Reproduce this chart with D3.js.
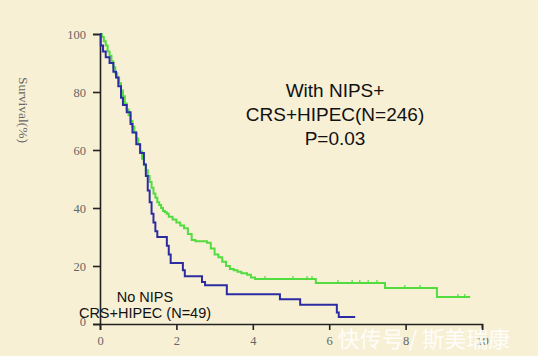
<!DOCTYPE html>
<html><head><meta charset="utf-8">
<script src="https://cdn.jsdelivr.net/npm/d3@7/dist/d3.min.js"></script>
<style>
html,body{margin:0;padding:0;background:#f7f0d5;}
svg{display:block;}
</style></head>
<body>
<script>
// ---- data ----
const xTicks = [0, 2, 4, 6, 8, 10];
const yTicks = [0, 20, 40, 60, 80, 100];
const greenTime = [0,0.05,0.1,0.15,0.2,0.25,0.3,0.35,0.4,0.45,0.5,0.55,0.6,0.65,0.7,0.75,0.8,0.85,0.9,0.95,1.0,1.05,1.1,1.15,1.2,1.25,1.3,1.35,1.4,1.45,1.5,1.55,1.6,1.65,1.7,1.75,1.8,1.9,2.0,2.1,2.2,2.3,2.4,2.5,2.8,2.9,3.0,3.1,3.2,3.3,3.4,3.5,3.6,3.7,3.85,3.95,4.06,5.65,7.46,8.82,9.69];
const greenSurv = [100,99,97.5,96,94,92.5,90.5,88.5,86.5,85,83,80.5,78.5,76,74,72,70,68,66,64,62,59.5,57,55,53,51,49,47,45,43.5,42,41,40,39,38.5,38,37,36,35,34,33,31,29,28.5,28,26,24,23,21.5,20,19,18.5,18,17.5,17,16,15.5,14.1,12.4,9.3,9.3];
const greenCensor = [4.32,5.05,5.42,5.55,6.23,6.6,6.8,7.02,7.25,7.98,8.38,9.37,9.55];
const blueTime = [0,0.02,0.08,0.15,0.25,0.35,0.42,0.48,0.55,0.6,0.7,0.8,0.85,0.95,1.05,1.15,1.2,1.25,1.3,1.35,1.4,1.45,1.5,1.75,1.8,1.85,2.17,2.22,2.67,2.75,3.32,4.71,5.24,6.2,6.25,6.68];
const blueSurv = [100,96,94,92,90,87,85,82,78,75.5,73,69,66,62,59,55,51,46,42,38,35,32,30,27,24,21,18.5,16.5,14.5,13.4,10.3,8.5,6.6,4,2.4,2.4];
const annotation = ["With NIPS+", "CRS+HIPEC(N=246)", "P=0.03"];
const noLabel = ["No NIPS", "CRS+HIPEC (N=49)"];
const yTitle = "Survival(%)";
const watermark = "快传号 / 斯美瑞康";

const W = 538, H = 356;
const svg = d3.select("body").append("svg").attr("width", W).attr("height", H);
svg.append("rect").attr("width", W).attr("height", H).attr("fill", "#f7f0d5");

const x = d3.scaleLinear().domain([0, 10]).range([100, 482]);
const y = d3.scaleLinear().domain([0, 100]).range([324, 34]);

// axes
const xAxis = svg.append("g").attr("transform", "translate(0,324)")
  .call(d3.axisBottom(x).tickValues(xTicks).tickSize(6).tickPadding(6));
const yAxis = svg.append("g").attr("transform", "translate(100,0)")
  .call(d3.axisLeft(y).tickValues(yTicks).tickSize(7).tickPadding(7));
[xAxis, yAxis].forEach(g => {
  g.select(".domain").attr("stroke", "#222").attr("stroke-width", 1.6);
  g.selectAll(".tick line").attr("stroke", "#222").attr("stroke-width", 1.6);
  g.selectAll(".tick text").attr("fill", "#666").attr("font-family", "Liberation Serif, serif").attr("font-size", 12.5);
});
yAxis.selectAll(".tick text").filter(d => d === 0).attr("dy", "0.1em");

svg.append("text").text(yTitle)
  .attr("transform", "translate(19,110) rotate(90)")
  .attr("text-anchor", "middle").attr("fill", "#666")
  .attr("font-family", "Liberation Serif, serif").attr("font-size", 13.5);

// curves
const line = d3.line().curve(d3.curveStepAfter).x(d => x(d[0])).y(d => y(d[1]));
const greenData = greenTime.map((t, i) => [t, greenSurv[i]]);
const blueData = blueTime.map((t, i) => [t, blueSurv[i]]);
svg.append("path").datum(greenData).attr("d", line)
  .attr("fill", "none").attr("stroke", "#52dc40").attr("stroke-width", 2);
svg.append("path").datum(blueData).attr("d", line)
  .attr("fill", "none").attr("stroke", "#2c2ca2").attr("stroke-width", 2);

// censor ticks
const survAt = t => { let v = greenSurv[0]; greenTime.forEach((tt, i) => { if (tt <= t) v = greenSurv[i]; }); return v; };
svg.selectAll(".cens").data(greenCensor).enter().append("line")
  .attr("x1", d => x(d)).attr("x2", d => x(d))
  .attr("y1", d => y(survAt(d))).attr("y2", d => y(survAt(d)) - 3)
  .attr("stroke", "#52dc40").attr("stroke-width", 1.2);

// annotations
svg.selectAll(".ann").data(annotation).enter().append("text")
  .text(d => d).attr("x", 335).attr("y", (d, i) => 97 + i * 24)
  .attr("text-anchor", "middle").attr("fill", "#111")
  .attr("font-family", "Liberation Sans, Arial, sans-serif").attr("font-size", 19);

svg.selectAll(".nol").data(noLabel).enter().append("text")
  .text(d => d).attr("x", 145).attr("y", (d, i) => 302 + i * 16)
  .attr("text-anchor", "middle").attr("fill", "#111")
  .attr("font-family", "Liberation Sans, Arial, sans-serif").attr("font-size", 14.5);

// watermark
svg.append("text").text(watermark)
  .attr("x", 424).attr("y", 347).attr("text-anchor", "middle")
  .attr("fill", "#ffffff").attr("fill-opacity", 0.9)
  .attr("font-family", "Noto Sans CJK SC, sans-serif").attr("font-size", 22);
</script>
</body></html>
